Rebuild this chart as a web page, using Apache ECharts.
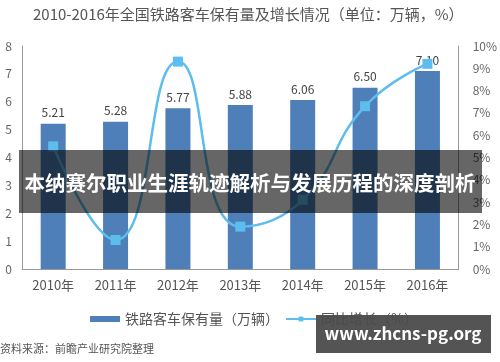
<!DOCTYPE html>
<html><head><meta charset="utf-8">
<script src="https://cdn.jsdelivr.net/npm/echarts@6/dist/echarts.min.js"></script>
<style>html,body{margin:0;padding:0;background:#fff}#c{width:500px;height:362px}</style>
</head><body><div id="c"></div>
<script>
const categories = ['2010年','2011年','2012年','2013年','2014年','2015年','2016年'];
const stockValues = [5.21, 5.28, 5.77, 5.88, 6.06, 6.50, 7.10];
const growthValues = [5.5, 1.3, 9.3, 1.9, 3.1, 7.3, 9.2];
const leftTicks = [0,1,2,3,4,5,6,7,8];
const rightTicks = [0,1,2,3,4,5,6,7,8,9,10];
const font = '"Noto Sans CJK SC", "Noto Sans", sans-serif';
const chart = echarts.init(document.getElementById('c'));
chart.setOption({
  animation: false,
  textStyle: {fontFamily: font},
  title: {
    text: '2010-2016年全国铁路客车保有量及增长情况（单位：万辆，%）',
    left: 28, top: 2,
    textStyle: {fontSize: 15, fontWeight: 'normal', color: '#555', fontFamily: font}
  },
  legend: {
    bottom: 31, left: 85, itemGap: 6,
    textStyle: {fontSize: 14, color: '#555'},
    data: [
      {name: '铁路客车保有量（万辆）', icon: 'rect', itemStyle: {color: '#4f7fb8'}},
      {name: '同比增长（%）'}
    ],
    itemWidth: 30, itemHeight: 6
  },
  grid: {left: 22, right: 38, top: 46, bottom: 93},
  xAxis: {
    type: 'category', data: categories,
    axisLine: {lineStyle: {color: '#999'}},
    axisTick: {show: false},
    axisLabel: {color: '#555', fontSize: 13, margin: 10}
  },
  yAxis: [
    {type: 'value', min: 0, max: 8, interval: 1, position: 'left',
     axisLine: {show: true, lineStyle: {color: '#999'}},
     splitLine: {show: false},
     axisLabel: {color: '#666', fontSize: 12, margin: 10,
       formatter: v => leftTicks.includes(v) ? String(v) : ''}},
    {type: 'value', min: 0, max: 10, interval: 1, position: 'right',
     axisLine: {show: true, lineStyle: {color: '#999'}},
     splitLine: {show: false},
     axisLabel: {color: '#666', fontSize: 12, margin: 14,
       formatter: v => rightTicks.includes(v) ? v + '%' : ''}}
  ],
  series: [
    {name: '铁路客车保有量（万辆）', type: 'bar', data: stockValues, barWidth: 25,
     itemStyle: {color: '#4f7fb8'},
     label: {show: true, position: 'top', color: '#444', fontSize: 12,
       formatter: p => p.value.toFixed(2)}},
    {name: '同比增长（%）', type: 'line', yAxisIndex: 1, data: growthValues, smooth: true,
     symbol: 'rect', symbolSize: 10,
     lineStyle: {color: '#5cbdee', width: 2.5},
     itemStyle: {color: '#5cbdee'}}
  ],
  graphic: [
    {type: 'rect', shape: {x: 19, y: 150, width: 463, height: 63},
     style: {fill: 'rgba(0,0,0,0.6)'}, z: 100},
    {type: 'text', x: 250, y: 183, z: 101,
     style: {text: '本纳赛尔职业生涯轨迹解析与发展历程的深度剖析', fill: '#fff',
       font: 'bold 20.5px ' + font, textAlign: 'center', textVerticalAlign: 'middle'}},
    {type: 'text', x: 0, y: 343, z: 50,
     style: {text: '资料来源：前瞻产业研究院整理', fill: '#555', font: '11px ' + font}},
    {type: 'rect', shape: {x: 316, y: 315, width: 175, height: 38},
     style: {fill: 'rgba(75,75,75,0.95)'}, z: 100},
    {type: 'text', x: 403, y: 334, z: 101,
     style: {text: 'www.zhcns-pg.org', fill: '#fff',
       font: 'bold 17px ' + font, textAlign: 'center', textVerticalAlign: 'middle'}}
  ]
});
</script></body></html>
